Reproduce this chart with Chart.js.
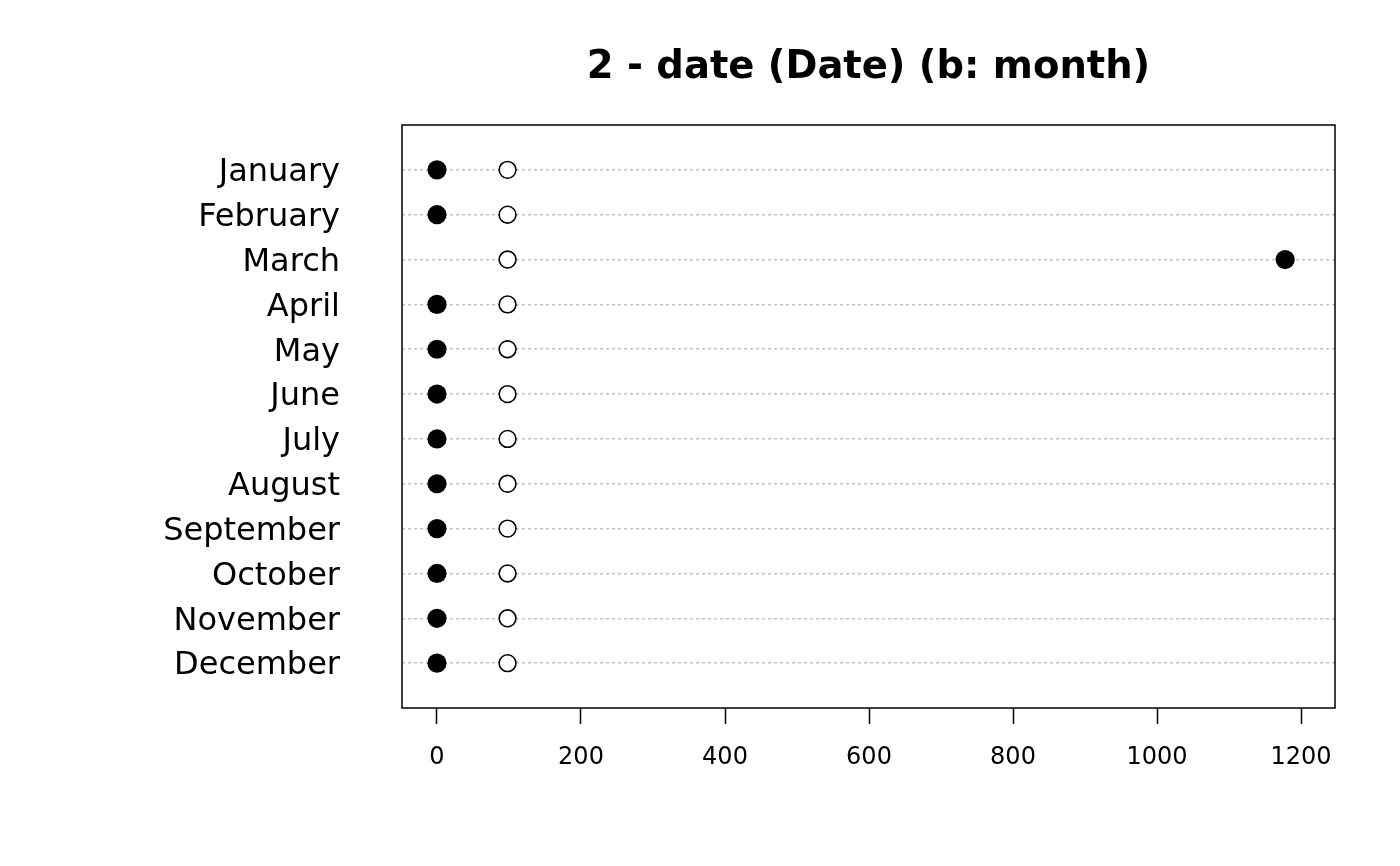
<!DOCTYPE html>
<html lang="en">

<head>
    <meta charset="UTF-8">
    <title>2 - date (Date) (b: month)</title>
    <script src="https://cdn.jsdelivr.net/npm/chart.js"></script>
    <style>
        html, body { margin: 0; padding: 0; background: #ffffff; }
        #wrap { width: 1400px; height: 866px; }
    </style>
</head>

<body>
    <div id="wrap">
        <canvas id="grafico" width="1400" height="866"></canvas>
    </div>

<script>
    // categories (top to bottom)
    var meses = ['January', 'February', 'March', 'April', 'May', 'June',
        'July', 'August', 'September', 'October', 'November', 'December']

    // filled dots: observed counts
    var observado = [0, 0, 1178, 0, 0, 0, 0, 0, 0, 0, 0, 0]
    // open dots: expected counts
    var esperado = [98, 98, 98, 98, 98, 98, 98, 98, 98, 98, 98, 98]

    var ticksX = [0, 200, 400, 600, 800, 1000, 1200]
    var titulo = '2 - date (Date) (b: month)'

    var fonte = '"DejaVu Sans", "Liberation Sans", sans-serif'

    function pontos(valores) {
        return valores.map(function (v, i) {
            return { x: v, y: i + 1 }
        })
    }

    // box around the plot + title
    var moldura = {
        id: 'moldura',
        afterDraw: function (chart) {
            var ctx = chart.ctx
            var a = chart.chartArea
            ctx.save()
            ctx.strokeStyle = '#000000'
            ctx.lineWidth = 1.5
            ctx.strokeRect(a.left, a.top, a.right - a.left, a.bottom - a.top)
            ctx.fillStyle = '#000000'
            ctx.font = 'bold 38.5px ' + fonte
            ctx.textAlign = 'center'
            ctx.textBaseline = 'alphabetic'
            ctx.fillText(titulo, (a.left + a.right) / 2, 78)
            ctx.restore()
        }
    }

    var config = {
        type: 'scatter',
        data: {
            datasets: [{
                label: 'observado',
                data: pontos(observado),
                pointRadius: 9.6,
                pointBackgroundColor: '#000000',
                pointBorderColor: '#000000',
                pointBorderWidth: 0
            }, {
                label: 'esperado',
                data: pontos(esperado),
                pointRadius: 8.4,
                pointBackgroundColor: '#ffffff',
                pointBorderColor: '#000000',
                pointBorderWidth: 1.6
            }]
        },
        options: {
            responsive: false,
            animation: false,
            events: [],
            devicePixelRatio: 1,
            layout: {
                padding: { top: 125, right: 65, left: 0, bottom: 0 }
            },
            plugins: {
                legend: { display: false },
                tooltip: { enabled: false },
                title: { display: false }
            },
            scales: {
                x: {
                    type: 'linear',
                    position: 'bottom',
                    min: -48.6,
                    max: 1247.2,
                    afterBuildTicks: function (s) {
                        s.ticks = ticksX.map(function (v) { return { value: v } })
                    },
                    afterFit: function (s) { s.height = 158 },
                    border: { display: false },
                    grid: {
                        drawOnChartArea: false,
                        drawTicks: true,
                        tickLength: 16,
                        tickColor: '#000000',
                        tickWidth: 1.5
                    },
                    ticks: {
                        color: '#000000',
                        padding: 19,
                        maxRotation: 0,
                        autoSkip: false,
                        font: { family: fonte, size: 24 },
                        callback: function (v) { return String(v) }
                    }
                },
                y: {
                    type: 'linear',
                    min: 0,
                    max: 13,
                    reverse: true,
                    afterBuildTicks: function (s) {
                        s.ticks = meses.map(function (m, i) { return { value: i + 1 } })
                    },
                    afterFit: function (s) { s.width = 402 },
                    border: { display: false, dash: [3, 3] },
                    grid: {
                        color: '#c4c4c4',
                        lineWidth: 1.5,
                        drawTicks: false
                    },
                    ticks: {
                        color: '#000000',
                        padding: 62,
                        labelOffset: 3,
                        autoSkip: false,
                        font: { family: fonte, size: 32 },
                        callback: function (v) { return meses[v - 1] }
                    }
                }
            }
        },
        plugins: [moldura]
    }

    var myChart = new Chart(document.getElementById('grafico'), config)
</script>
</body>

</html>
